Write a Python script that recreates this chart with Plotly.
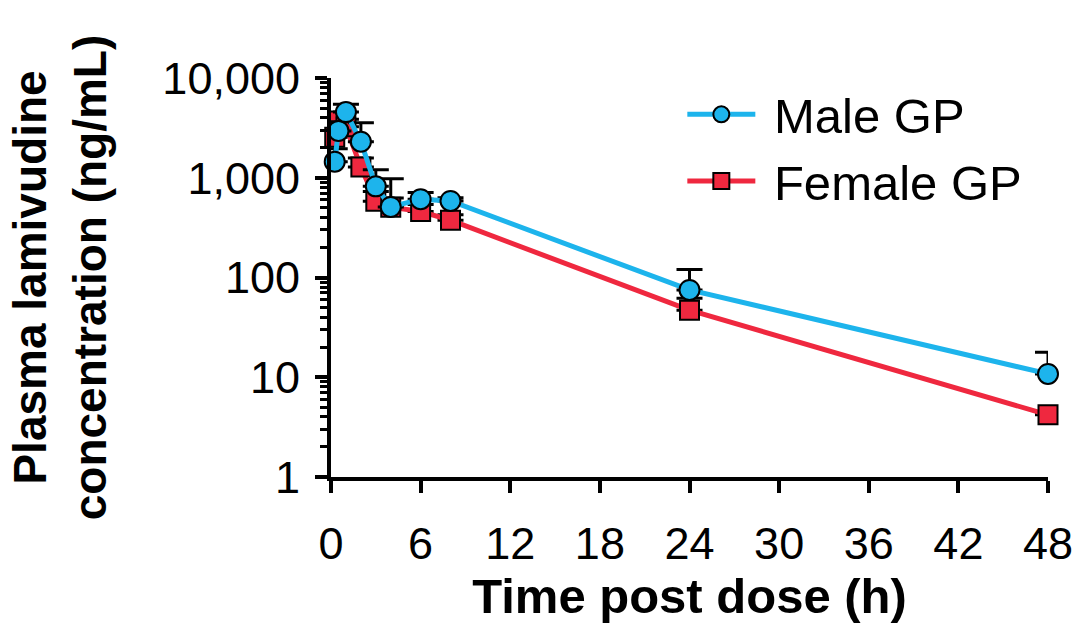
import plotly.graph_objects as go

time_h = [0.25, 0.5, 1, 2, 3, 4, 6, 8, 24, 48]
male_mean = [1450, 2950, 4550, 2300, 820, 510, 610, 585, 75, 10.8]
male_sd = [500, 700, 900, 1250, 380, 470, 100, 45, 45, 7]
female_mean = [2550, 3700, 3250, 1280, 580, 505, 460, 375, 47, 4.2]
female_sd = [400, 500, 600, 300, 150, 120, 80, 50, 15, 0.3]

y_tickvals = [1, 10, 100, 1000, 10000]
y_ticktext = ["1", "10", "100", "1,000", "10,000"]
x_tickvals = [0, 6, 12, 18, 24, 30, 36, 42, 48]

blue = "#1DB4EC"
red = "#EF283F"
font_family = "Liberation Sans, Arial, sans-serif"

fig = go.Figure()
fig.add_trace(go.Scatter(
    x=time_h, y=female_mean, name="\u00a0Female GP", mode="lines+markers",
    line=dict(color=red, width=5),
    marker=dict(symbol="square", size=19, color=red, line=dict(color="black", width=2)),
    error_y=dict(type="data", array=female_sd, arrayminus=[0] * len(female_sd),
                 symmetric=False, color="black", thickness=3, width=13),
    cliponaxis=False,
))
fig.add_trace(go.Scatter(
    x=time_h, y=male_mean, name="\u00a0Male GP", mode="lines+markers",
    line=dict(color=blue, width=5),
    marker=dict(symbol="circle", size=20, color=blue, line=dict(color="black", width=2)),
    error_y=dict(type="data", array=male_sd, arrayminus=[0] * len(male_sd),
                 symmetric=False, color="black", thickness=3, width=13),
    cliponaxis=False,
))

fig.update_layout(
    width=1089, height=623,
    margin=dict(l=331, r=41, t=78, b=146, autoexpand=False),
    paper_bgcolor="white", plot_bgcolor="white",
    font=dict(family=font_family, color="black", size=45),
    showlegend=True,
    legend=dict(
        x=0.49, y=1.005, xanchor="left", yanchor="top",
        traceorder="reversed",
        font=dict(size=49, family=font_family),
        bgcolor="rgba(0,0,0,0)",
        itemwidth=68,
        tracegroupgap=0,
    ),
    xaxis=dict(
        range=[0, 48], tickvals=x_tickvals, automargin=False,
        showline=True, linecolor="black", linewidth=4,
        ticks="outside", ticklen=12, tickwidth=4, tickcolor="black",
        showgrid=False, zeroline=False,
        tickfont=dict(size=45),
        ticklabelstandoff=12,
        title=dict(text="<b>Time post dose (h)</b>", font=dict(size=49), standoff=18),
    ),
    yaxis=dict(
        type="log", range=[0, 4], automargin=False,
        tickvals=y_tickvals, ticktext=y_ticktext,
        showline=True, linecolor="black", linewidth=4,
        ticks="outside", ticklen=12, tickwidth=4, tickcolor="black",
        minor=dict(ticks="outside", ticklen=7, tickwidth=3, tickcolor="black",
                   showgrid=False, dtick="D1"),
        showgrid=False, zeroline=False,
        tickfont=dict(size=45),
        ticklabelstandoff=6,
        title=dict(text="<b>Plasma lamivudine<br>concentration (ng/mL)</b>", font=dict(size=46), standoff=42),
    ),
)

fig.write_html("out.html")
